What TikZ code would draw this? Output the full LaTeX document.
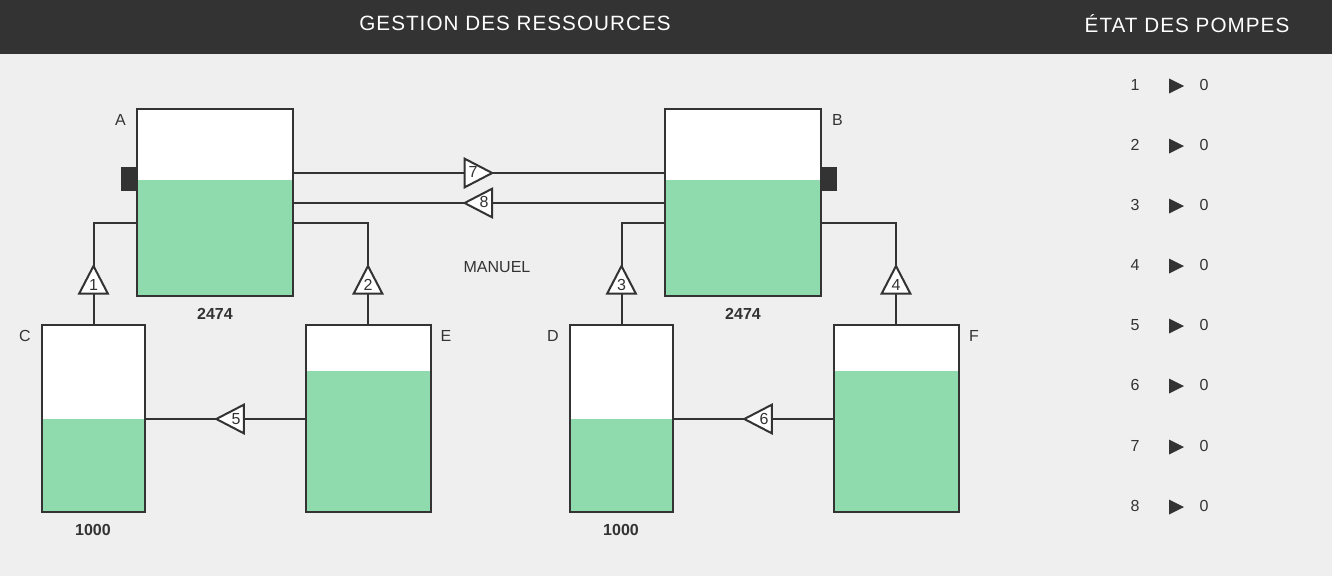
\documentclass[tikz,border=0pt]{standalone}
\usepackage{fontspec}
\setmainfont{Liberation Sans}
\newfontfamily\titrefont[LetterSpace=5]{Liberation Sans}
\usetikzlibrary{shapes.geometric}
\definecolor{fond}{HTML}{EFEFEF}
\definecolor{sombre}{HTML}{333333}
\definecolor{niveau}{HTML}{8FDBAE}
\tikzset{
  cuve/.style={draw=sombre, line width=1.5pt, inner sep=0pt, minimum height=141.75pt-1.5pt},
  pompe/.style={isosceles triangle, isosceles triangle stretches, draw=sombre, fill=white, line width=1.5pt,
    inner sep=0pt, outer sep=0pt, minimum width=21.5pt, minimum height=20.7pt, anchor=apex},
  etat/.style={isosceles triangle, isosceles triangle stretches, fill=sombre, inner sep=0pt, outer sep=0pt,
    minimum width=11.25pt, minimum height=11.25pt, anchor=west},
  texte/.style={text=sombre, font=\fontsize{12}{12}\selectfont},
  total/.style={text=sombre, font=\fontsize{12}{12}\selectfont\bfseries},
  titre/.style={text=white, font=\fontsize{15.5}{15.5}\selectfont\titrefont},
  tuyau/.style={draw=sombre, line width=1.5pt}
}
\begin{document}
\begin{tikzpicture}[x=.75pt, y=-.75pt]
  \useasboundingbox (0,0) rectangle (1332,576);
  \fill [fond] (0,0) rectangle (1332,576);
  \fill [sombre] (0,0) rectangle (1332,54);
  \node [titre] (gestion) at (515,23.5) {GESTION DES RESSOURCES};
  \node [titre] (pompes) at (1187,23.5) {ÉTAT DES POMPES};

  % cuves : nom, centre, largeur, haut du niveau
  \foreach \nom/\cx/\cy/\larg/\lev in {A/215/202.5/158/180, B/743/202.5/158/180,
      C/93.5/418.5/105/419, E/368.5/418.5/127/371, D/621.5/418.5/105/419, F/896.5/418.5/127/371} {
    \node [cuve, fill=white, minimum width=\larg*.75pt-1.5pt] (\nom) at (\cx,\cy) {};
    \fill [niveau] (\nom.south west) rectangle (\nom.east |- 0,\lev);
    \node [cuve, minimum width=\larg*.75pt-1.5pt] at (\cx,\cy) {};
  }
  \node [fill=sombre, inner sep=0pt, minimum width=11.25pt, minimum height=18pt, anchor=east] (niveauA) at (136,179) {};
  \node [fill=sombre, inner sep=0pt, minimum width=11.25pt, minimum height=18pt, anchor=west] (niveauB) at (822,179) {};

  \node [texte] (nomA) at (120.5,119.5) {A};
  \node [texte] (nomB) at (837.5,119.5) {B};
  \node [texte] (nomC) at (25,335.5) {C};
  \node [texte] (nomD) at (553,335.5) {D};
  \node [texte] (nomE) at (446,335.5) {E};
  \node [texte] (nomF) at (974,335.5) {F};
  \node [texte] (manuel) at (497,267.5) {MANUEL};
  \node [total] (totalA) at (215,313.5) {2474};
  \node [total] (totalB) at (743,313.5) {2474};
  \node [total] (totalC) at (93,529.5) {1000};
  \node [total] (totalD) at (621,529.5) {1000};

  % pompes
  \node [pompe, shape border rotate=90] (p1) at (93.5,266) {};
  \node [pompe, shape border rotate=90] (p2) at (368,266) {};
  \node [pompe, shape border rotate=90] (p3) at (621.5,266) {};
  \node [pompe, shape border rotate=90] (p4) at (896,266) {};
  \node [pompe, shape border rotate=180] (p5) at (216.3,419) {};
  \node [pompe, shape border rotate=180] (p6) at (744.3,419) {};
  \node [pompe] (p7) at (492.2,173) {};
  \node [pompe, shape border rotate=180] (p8) at (464.6,203) {};
  \foreach \n/\cx/\cy in {1/93.5/285, 2/368/285, 3/621.5/285, 4/896/285, 5/236/419, 6/764/419, 7/473/172, 8/484/202}
    \node [texte, inner sep=0pt] (num\n) at (\cx,\cy) {\n};

  % tuyaux
  \draw [tuyau] (A.west |- 0,223) -| (p1.apex);
  \draw [tuyau] (C.north -| p1.apex) -- (p1.south);
  \draw [tuyau] (A.east |- 0,223) -| (p2.apex);
  \draw [tuyau] (E.north -| p2.apex) -- (p2.south);
  \draw [tuyau] (B.west |- 0,223) -| (p3.apex);
  \draw [tuyau] (D.north -| p3.apex) -- (p3.south);
  \draw [tuyau] (B.east |- 0,223) -| (p4.apex);
  \draw [tuyau] (F.north -| p4.apex) -- (p4.south);
  \draw [tuyau] (C.east |- p5.apex) -- (p5.apex);
  \draw [tuyau] (p5.east) -- (E.west |- p5.apex);
  \draw [tuyau] (D.east |- p6.apex) -- (p6.apex);
  \draw [tuyau] (p6.east) -- (F.west |- p6.apex);
  \draw [tuyau] (A.east |- p7.apex) -- (p7.west);
  \draw [tuyau] (p7.apex) -- (B.west |- p7.apex);
  \draw [tuyau] (A.east |- p8.apex) -- (p8.apex);
  \draw [tuyau] (p8.east) -- (B.west |- p8.apex);

  % etat des pompes
  \foreach \n/\ey in {1/85, 2/145, 3/205, 4/265, 5/325, 6/385, 7/446, 8/506} {
    \node [texte] (lib\n) at (1135,\ey) {\n};
    \node [etat] (fl\n) at (1169,\ey+1) {};
    \node [texte] (val\n) at (1204,\ey) {0};
  }
\end{tikzpicture}
\end{document}
